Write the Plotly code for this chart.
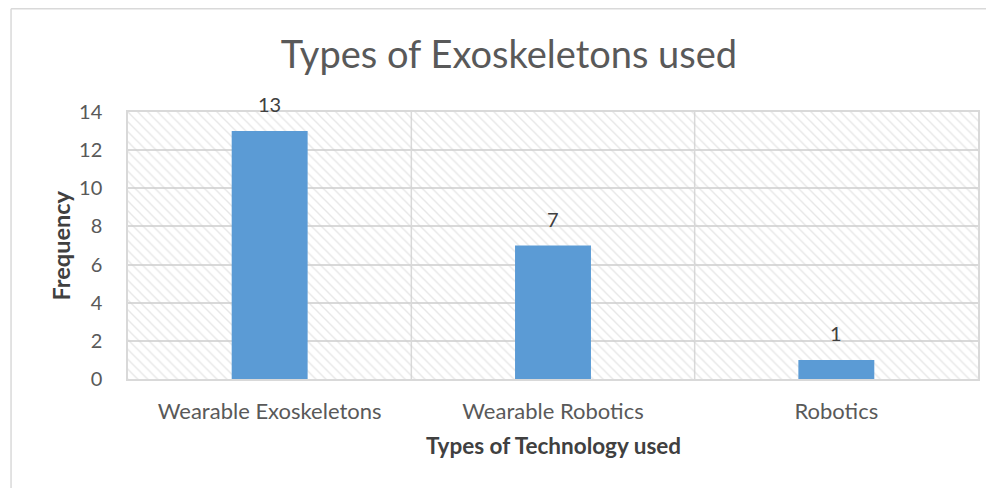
import plotly.graph_objects as go

categories = ["Wearable Exoskeletons", "Wearable Robotics", "Robotics"]
frequency = [13, 7, 1]
y_ticks = [0, 2, 4, 6, 8, 10, 12, 14]

title_text = "Types of Exoskeletons used"
x_title = "Types of Technology used"
y_title = "Frequency"

FONT = "Lato, 'Open Sans', sans-serif"
TXT = "#595959"
GRID = "#d9d9d9"

fig = go.Figure()

# hatched background of the plot area (main, invisible axes)
fig.add_trace(go.Scatter(
    x=[0, 1, 1, 0, 0], y=[0, 0, 1, 1, 0], xaxis="x", yaxis="y",
    mode="lines", line=dict(width=0), fill="toself", fillcolor="rgba(0,0,0,0)",
    fillpattern=dict(shape="\\", fgcolor="#d0d0d0", bgcolor="rgba(0,0,0,0)", size=7, solidity=0.2),
    hoverinfo="skip", showlegend=False,
))

# bars on the overlaying category axes
fig.add_trace(go.Bar(
    x=categories, y=frequency, xaxis="x2", yaxis="y2",
    marker=dict(color="#5B9BD5", line=dict(width=0)),
    width=0.268, showlegend=False, hoverinfo="x+y",
))

annotations = []
for c, v in zip(categories, frequency):
    annotations.append(dict(x=c, y=v, xref="x2", yref="y2", text=str(v), showarrow=False,
                            yanchor="middle", yshift=27,
                            font=dict(family=FONT, size=20, color="#404040")))
annotations.append(dict(x=0.5, y=-0.248, xref="paper", yref="paper", text=x_title, showarrow=False,
                        xanchor="center", yanchor="middle",
                        font=dict(family=FONT, size=22.5, color="#404040", weight="bold")))
annotations.append(dict(x=-0.08, y=0.5, xref="paper", yref="paper", text=y_title, showarrow=False,
                        textangle=-90, xanchor="center", yanchor="middle",
                        font=dict(family=FONT, size=23.5, color="#404040", weight="bold")))

shapes = []
for xv in [0.5, 1.5]:
    shapes.append(dict(type="line", xref="x2", yref="paper", x0=xv, x1=xv, y0=0, y1=1,
                       line=dict(color=GRID, width=1.5), layer="below"))
# outer chart border (top and left edges visible in the reference)
shapes.append(dict(type="line", xref="paper", yref="paper", x0=-0.1376, x1=1.03, y0=1.3867, y1=1.3867,
                   line=dict(color=GRID, width=1.5)))
shapes.append(dict(type="line", xref="paper", yref="paper", x0=-0.1376, x1=-0.1376, y0=1.3867, y1=-0.45,
                   line=dict(color=GRID, width=1.5)))

fig.update_layout(
    width=986, height=480,
    margin=dict(l=120, r=16, t=104, b=109),
    paper_bgcolor="white", plot_bgcolor="white",
    title=dict(text=title_text, x=0.508, xanchor="center", y=0.902, yanchor="middle",
               font=dict(family=FONT, size=38, color=TXT)),
    xaxis=dict(range=[0, 1], visible=False, fixedrange=True),
    yaxis=dict(range=[0, 1], visible=False, fixedrange=True),
    xaxis2=dict(overlaying="x", range=[-0.5, 2.5], showgrid=False, showline=True, linecolor=GRID,
                linewidth=1.5, mirror=True, ticks="", ticklabelstandoff=12,
                tickfont=dict(family=FONT, size=22, color=TXT), layer="above traces"),
    yaxis2=dict(overlaying="y", range=[0, 14], tickvals=y_ticks, showgrid=True, gridcolor=GRID,
                gridwidth=1.5, showline=True, linecolor=GRID, linewidth=1.5, mirror=True,
                zeroline=False, ticks="", ticklabelstandoff=20,
                tickfont=dict(family=FONT, size=20, color=TXT), layer="above traces"),
    annotations=annotations,
    shapes=shapes,
)

fig.write_html("out.html")
